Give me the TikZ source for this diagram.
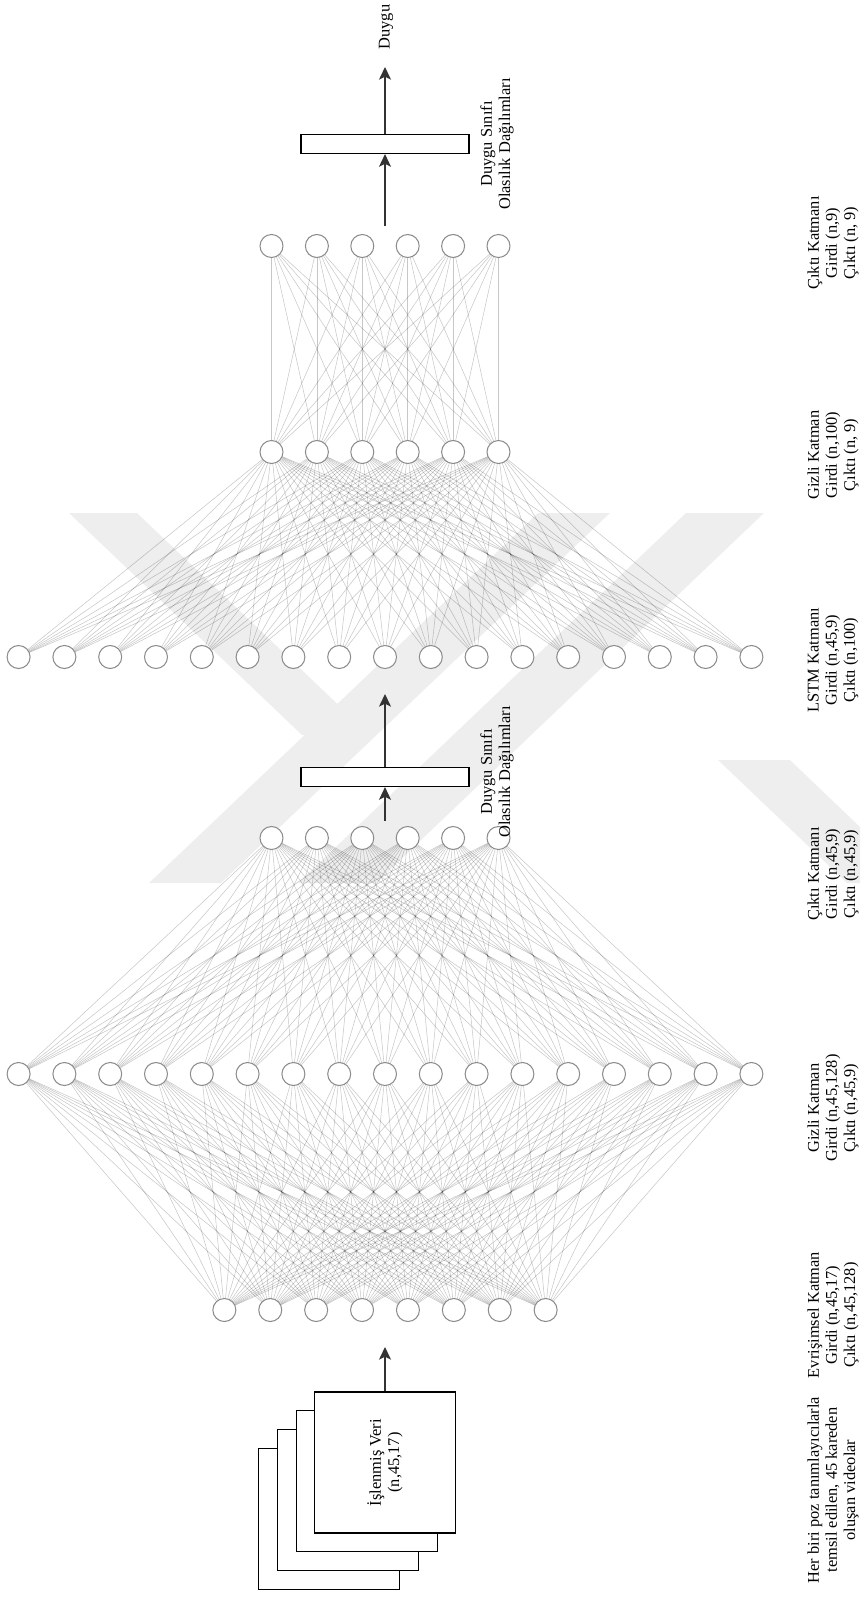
\documentclass[tikz,border=0pt]{standalone}
\usepackage{fontspec}
\setmainfont{Liberation Serif}
\usetikzlibrary{arrows.meta,calc}
\definecolor{cember}{HTML}{8C8C8C}
\definecolor{damga}{HTML}{EEEEEE}
\definecolor{okr}{HTML}{333333}
\newcommand{\etiket}{\fontsize{14}{15.5}\selectfont}
\tikzset{
  noron/.style={circle,draw=cember,fill=white,line width=0.9pt,minimum size=6.9mm,inner sep=0pt},
  bag/.style={black,opacity=0.22,line width=0.45pt},
  okk/.style={-{Stealth[length=3.8mm,width=3.6mm,inset=0.9mm]},okr,line width=1.2pt},
  kutu/.style={draw=black,fill=white,line width=1pt,minimum width=50.4mm,minimum height=5.7mm,inner sep=0pt},
  kare/.style={draw=black,fill=white,line width=1pt},
  yazi/.style={rotate=90,align=center,font=\etiket,inner sep=0pt},
}

\begin{document}
\begin{tikzpicture}[x=0.03cm,y=-0.03cm]
  \useasboundingbox (0,0) rectangle (860,1599);
  % filigran
  \fill[damga] (69,513) -- (137,513) -- (370,735) -- (302,735) -- cycle;
  \fill[damga] (538,513) -- (610,513) -- (221,883) -- (149,883) -- cycle;
  \fill[damga] (686,513) -- (764,513) -- (376,883) -- (298,883) -- cycle;
  \fill[damga] (718,760) -- (790,760) -- (860,827) -- (860,883) -- (847,883) -- cycle;

  % girdi
  \foreach \k in {3,2,1}
    \draw[kare] ({315-18.7*\k},{1392+18.7*\k}) rectangle ++(141,141);
  \node[kare,minimum size=42.3mm,inner sep=0pt] (veri) at (385,1462.5) {};
  \node[yazi] (veriy) at (veri) {İşlenmiş Veri\\(n,45,17)};

  % katmanlar
  \foreach \i in {1,...,8}  \node[noron] (e\i) at ({385+(\i-4.5)*45.9},1310) {};
  \foreach \i in {1,...,17} \node[noron] (g\i) at ({385+(\i-9)*45.8},1074) {};
  \foreach \i in {1,...,6}  \node[noron] (c\i) at ({385+(\i-3.5)*45.4},838) {};
  \foreach \i in {1,...,17} \node[noron] (l\i) at ({385+(\i-9)*45.8},657) {};
  \foreach \i in {1,...,6}  \node[noron] (h\i) at ({385+(\i-3.5)*45.4},452) {};
  \foreach \i in {1,...,6}  \node[noron] (s\i) at ({385+(\i-3.5)*45.4},246) {};

  \foreach \i in {1,...,8} \foreach \j in {1,...,17} \draw[bag] (e\i) -- (g\j);
  \foreach \i in {1,...,17} \foreach \j in {1,...,6} \draw[bag] (g\i) -- (c\j);
  \foreach \i in {1,...,17} \foreach \j in {1,...,6} \draw[bag] (l\i) -- (h\j);
  \foreach \i in {1,...,6} \foreach \j in {1,...,6} \draw[bag] (h\i) -- (s\j);

  % olasilik kutulari
  \node[kutu] (dag1) at (385,777) {};
  \node[kutu] (dag2) at (385,144) {};
  \node[yazi] (dag1y) at (497,772) {Duygu Sınıfı\\Olasılık Dağılımları};
  \node[yazi] (dag2y) at (497,144) {Duygu Sınıfı\\Olasılık Dağılımları};
  \node[yazi] (duygu) at (386,27) {Duygu};

  \coordinate (u1) at (385,1347);
  \coordinate (c1o) at (385,821);
  \coordinate (l9i) at (385,694);
  \coordinate (s1o) at (385,226);
  \coordinate (du) at (385,67);
  \draw[okk] (veri.north) -- (u1);
  \draw[okk] (c1o) -- (dag1.south);
  \draw[okk] (dag1.north) -- (l9i);
  \draw[okk] (s1o) -- (dag2.south);
  \draw[okk] (dag2.north) -- (du);

  % aciklamalar
  \node[yazi] (a1) at (833,1490) {Her biri poz tanımlayıcılarla\\temsil edilen, 45 kareden\\oluşan videolar};
  \node[yazi] (a2) at (833,1315) {Evrişimsel Katman\\Girdi (n,45,17)\\Çıktı (n,45,128)};
  \node[yazi] (a3) at (833,1108) {Gizli Katman\\Girdi (n,45,128)\\Çıktı (n,45,9)};
  \node[yazi] (a4) at (833,874) {Çıktı Katmanı\\Girdi (n,45,9)\\Çıktı (n,45,9)};
  \node[yazi] (a5) at (833,660) {LSTM Katmanı\\Girdi (n,45,9)\\Çıktı (n,100)};
  \node[yazi] (a6) at (833,455) {Gizli Katman\\Girdi (n,100)\\Çıktı (n, 9)};
  \node[yazi] (a7) at (833,243) {Çıktı Katmanı\\Girdi (n,9)\\Çıktı (n, 9)};
\end{tikzpicture}
\end{document}
